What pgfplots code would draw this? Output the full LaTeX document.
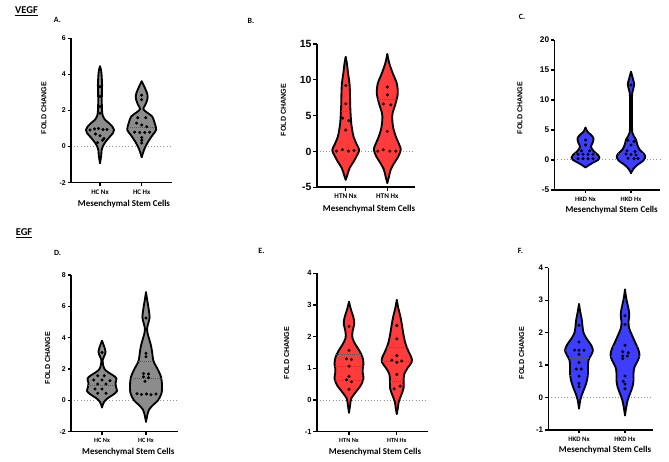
\documentclass[border=0pt]{standalone}
\usepackage{fontspec}
\setmainfont{Carlito}
\newfontfamily\arialf{Liberation Sans}
\usepackage{pgfplots}
\pgfplotsset{compat=1.18}
\usepgfplotslibrary{fillbetween}
\usepackage{pgfplotstable}

\definecolor{vgray}{HTML}{8C8C8C}
\definecolor{vred}{HTML}{FF3B3B}
\definecolor{vblue}{HTML}{3D3DFF}

% ---------- violin outlines: y value, half width (px) ----------
\pgfplotstableread[row sep=\\]{y w\\ -0.92 0\\ -0.5 1.2\\ -0.2 1.6\\ 0.0 2.7\\ 0.19 4.6\\ 0.35 6.8\\ 0.56 10\\ 0.75 13\\ 0.93 14\\ 1.1 12.5\\ 1.3 9\\ 1.5 4.8\\ 1.7 2.8\\ 2.0 2.0\\ 2.5 1.8\\ 3.0 1.9\\ 3.4 2.1\\ 3.8 1.8\\ 4.2 1.2\\ 4.45 0\\}\vAa
\pgfplotstableread[row sep=\\]{y w\\ -0.59 0\\ -0.37 1.2\\ -0.09 3\\ 0.28 6.5\\ 0.65 11\\ 0.93 14.5\\ 1.3 13\\ 1.67 10.5\\ 1.9 5\\ 2.08 1.6\\ 2.3 3.5\\ 2.6 5.6\\ 2.87 5.8\\ 3.15 4\\ 3.4 2\\ 3.62 0\\}\vAb
\pgfplotstableread[row sep=\\]{y w\\ -3.95 0\\ -3.2 1.8\\ -2.3 4\\ -1.4 8\\ -0.5 11.5\\ 0.2 13.5\\ 1.0 11\\ 2.0 8\\ 3.0 6.5\\ 4.0 5.5\\ 5.0 5\\ 6.5 4.5\\ 8.0 4.3\\ 9.5 3.8\\ 11.0 2.3\\ 12.3 1.2\\ 13.2 0\\}\vBa
\pgfplotstableread[row sep=\\]{y w\\ -4.4 0\\ -3.5 1.7\\ -2.5 3.5\\ -1.6 7\\ -0.7 11\\ 0.24 13.5\\ 0.93 12\\ 2.09 8.5\\ 3.25 6\\ 4.4 5\\ 5.35 5.3\\ 6.7 8.3\\ 8.1 10.5\\ 9.5 9.5\\ 10.9 5.5\\ 12.3 2\\ 13.6 0\\}\vBb
\pgfplotstableread[row sep=\\]{y w\\ -1.25 0\\ -0.9 3\\ -0.45 7.5\\ 0.0 12.5\\ 0.4 14\\ 0.85 12.5\\ 1.5 8\\ 2.2 5.5\\ 2.9 7.2\\ 3.6 8\\ 4.2 5.5\\ 4.7 2\\ 5.4 0\\}\vCa
\pgfplotstableread[row sep=\\]{y w\\ -2.2 0\\ -1.5 2.3\\ -0.8 6.5\\ -0.15 12\\ 0.5 14.3\\ 1.05 12.8\\ 1.75 8.5\\ 2.6 6.2\\ 3.4 5\\ 4.0 2.8\\ 4.6 1.3\\ 6.0 1.0\\ 8.0 0.9\\ 10.5 1.0\\ 11.2 1.3\\ 11.9 2.3\\ 12.6 3.2\\ 13.3 2.3\\ 14.0 1.2\\ 14.7 0\\}\vCb
\pgfplotstableread[row sep=\\]{y w\\ -0.45 0\\ -0.1 2\\ 0.15 6\\ 0.4 12\\ 0.6 15\\ 0.85 14\\ 1.1 13.5\\ 1.4 14.5\\ 1.6 11\\ 1.8 6\\ 2.0 2.5\\ 2.3 1\\ 2.6 0.8\\ 2.8 2\\ 3.1 3.6\\ 3.5 1.8\\ 3.8 0\\}\vDa
\pgfplotstableread[row sep=\\]{y w\\ -1.37 0\\ -0.95 1.3\\ -0.6 3\\ -0.3 7\\ 0.0 12\\ 0.45 15.5\\ 1.0 16\\ 1.5 15\\ 1.95 12\\ 2.5 7.5\\ 3.0 6.3\\ 3.5 5\\ 3.95 3\\ 4.3 1.5\\ 4.6 1.1\\ 4.9 2.2\\ 5.3 3.6\\ 5.9 2.5\\ 6.4 1.2\\ 6.9 0\\}\vDb
\pgfplotstableread[row sep=\\]{y w\\ -0.4 0\\ -0.15 1.2\\ 0.05 2.3\\ 0.26 7\\ 0.47 12\\ 0.68 14.5\\ 0.85 13.8\\ 1.0 13.8\\ 1.15 14.5\\ 1.35 13.5\\ 1.55 10.5\\ 1.75 6.5\\ 1.95 3.5\\ 2.15 3.5\\ 2.4 5.2\\ 2.6 4.5\\ 2.85 2\\ 3.1 0\\}\vEa
\pgfplotstableread[row sep=\\]{y w\\ -0.44 0\\ -0.25 1.1\\ -0.05 2\\ 0.16 4.5\\ 0.38 6.8\\ 0.6 6.8\\ 0.82 7.5\\ 1.02 11\\ 1.2 15\\ 1.35 14.5\\ 1.55 11.5\\ 1.8 8.5\\ 2.1 6.5\\ 2.4 5\\ 2.65 3.5\\ 2.9 1.5\\ 3.16 0\\}\vEb
\pgfplotstableread[row sep=\\]{y w\\ -0.34 0\\ -0.08 1.3\\ 0.12 3.3\\ 0.33 6\\ 0.53 8\\ 0.74 9\\ 0.95 9\\ 1.15 9.5\\ 1.3 12\\ 1.45 14\\ 1.62 12\\ 1.82 7.5\\ 2.0 4.5\\ 2.2 3.5\\ 2.4 2.8\\ 2.6 1.5\\ 2.88 0\\}\vFa
\pgfplotstableread[row sep=\\]{y w\\ -0.55 0\\ -0.29 1.3\\ -0.08 2.7\\ 0.12 5\\ 0.33 7.5\\ 0.53 8.5\\ 0.74 8.5\\ 0.94 9.5\\ 1.15 13\\ 1.32 14.5\\ 1.51 13\\ 1.71 10\\ 1.92 7\\ 2.13 4.2\\ 2.33 3.5\\ 2.53 4.3\\ 2.74 3.5\\ 2.94 2\\ 3.1 1\\ 3.33 0\\}\vFb

% ---------- data points: horizontal offset (px), fold change ----------
\pgfplotstableread[row sep=\\]{dx y\\ 0 3.32\\ 0 2.78\\ 0 2.22\\ 0 1.85\\ -10 0.92\\ -5.5 0.98\\ -1.5 1.0\\ 3 0.95\\ 7 0.95\\ -4.5 0.7\\ 0 0.6\\ 4 0.45\\ -2.5 0.22\\ 2.5 0.35\\}\pAa
\pgfplotstableread[row sep=\\]{dx y\\ 0 2.85\\ 0 2.6\\ -4 1.6\\ 4 1.6\\ -5 1.3\\ 0 1.2\\ 5 1.1\\ -7 0.8\\ -2 0.78\\ 3 0.78\\ 8 0.8\\ 0 0.5\\ 0 0.35\\ 0 0.2\\}\pAb
\pgfplotstableread[row sep=\\]{dx y\\ 0 9.2\\ 0 6.65\\ -3 4.65\\ 3 4.3\\ 0 3.0\\ -9.3 0.05\\ -3.3 0.25\\ 2.7 0.05\\ 8.3 0.15\\}\pBa
\pgfplotstableread[row sep=\\]{dx y\\ 0 9.0\\ 0 7.9\\ -4 6.65\\ 3.5 6.5\\ 0 2.8\\ -9.5 0.05\\ -4 0.25\\ 2.5 0.05\\ 8.5 0.05\\}\pBb
\pgfplotstableread[row sep=\\]{dx y\\ 0 3.35\\ 0 2.5\\ -4 1.55\\ 4 1.55\\ -7.5 0.95\\ -2.5 0.95\\ 2.5 0.95\\ 7.5 0.95\\ -7.5 0.2\\ -2.5 0.2\\ 2.5 0.2\\ 7.5 0.2\\}\pCa
\pgfplotstableread[row sep=\\]{dx y\\ 0 12.5\\ -3 3.3\\ 3 3.1\\ 0 2.5\\ -4 1.55\\ 4 1.4\\ -5 1.0\\ 0 0.9\\ 5 0.85\\ -3 0.3\\ 3 0.2\\ 7 0.25\\}\pCb
\pgfplotstableread[row sep=\\]{dx y\\ 0 3.05\\ -4.3 1.57\\ 2.3 1.57\\ -8.3 1.3\\ 0 1.3\\ 8 1.25\\ -4.3 1.04\\ 4 1.04\\ -7 0.72\\ 0 0.72\\ -4.3 0.45\\ 4 0.45\\}\pDa
\pgfplotstableread[row sep=\\]{dx y\\ 0 5.25\\ 0 3.0\\ 0 2.78\\ -2.5 1.72\\ 2.5 1.68\\ -2.5 1.5\\ 2.5 1.45\\ -1 1.22\\ -9 0.42\\ -4.5 0.38\\ 0.5 0.4\\ 5 0.36\\ 10 0.4\\}\pDb
\pgfplotstableread[row sep=\\]{dx y\\ 0 2.33\\ 0 1.57\\ -2.5 1.3\\ 2.5 1.28\\ 0 1.07\\ 0 0.75\\ -2.5 0.64\\ 2.5 0.58\\ 0 0.34\\}\pEa
\pgfplotstableread[row sep=\\]{dx y\\ 0 2.35\\ 0 1.93\\ 0 1.4\\ -5 1.26\\ 0 1.19\\ 5 1.23\\ 0 0.81\\ 3.3 0.44\\ -2.7 0.35\\}\pEb
\pgfplotstableread[row sep=\\]{dx y\\ 0 2.23\\ 0 1.71\\ -4.3 1.46\\ 0 1.46\\ 5 1.46\\ 0 1.33\\ 0 1.08\\ -2.7 0.88\\ 2.3 0.88\\ 0 0.66\\ 0 0.43\\ 0 0.33\\}\pFa
\pgfplotstableread[row sep=\\]{dx y\\ 0 2.52\\ 0 2.25\\ 0 1.61\\ -2.3 1.41\\ 3.3 1.38\\ -2.3 1.28\\ 2.3 1.28\\ -2.3 1.2\\ 0 0.66\\ -1.7 0.5\\ 0 0.42\\ 0 0.27\\}\pFb

\newcommand{\violin}[4]{%
  \addplot[name path=#4R, draw=black, line width=1.85pt, line cap=round, line join=round, smooth, tension=0.5] table[x expr=#2+\thisrow{w}, y=y]{#1};
  \addplot[name path=#4L, draw=black, line width=1.85pt, line cap=round, line join=round, smooth, tension=0.5] table[x expr=#2-\thisrow{w}, y=y]{#1};
  \addplot[fill=#3, draw=none] fill between[of=#4R and #4L];
}
\newcommand{\pts}[2]{%
  \addplot[only marks, mark=*, mark size=1.35pt, black] table[x expr=#2+\thisrow{dx}, y=y]{#1};
}

\pgfplotsset{
  prism/.style={
    scale only axis, set layers, clip=false, enlargelimits=false,
    axis x line*=bottom, axis y line*=left,
    axis line style={line width=1.6pt, black, -},
    tick style={line width=1.3pt, black},
    tick align=outside, major tick length=3.5bp,
    ytick pos=left, xtick pos=bottom,
    y tick label style={inner sep=1.5bp},
  },
  zeroline/.style={on layer=axis background, draw=gray!85, line width=1pt, dash pattern=on 1pt off 2.2pt},
  medline/.style={draw=black!65, line width=0.5pt, dash pattern=on 1pt off 1pt},
}

\begin{document}
\begin{tikzpicture}

% ================= Panel A =================
\begin{axis}[prism, at={(71bp,279.3bp)}, anchor=south west, width=101bp, height=144.4bp,
  xmin=-29, xmax=72, ymin=-2, ymax=6,
  xtick={0,41.7}, xticklabels={HC Nx, HC Hx},
  ytick={-2,0,2,4,6}, yticklabels={-2,0,2,4,6},
  yticklabel style={font=\arialf\bfseries\fontsize{7}{8}\selectfont},
  xticklabel style={font=\bfseries\fontsize{7}{8}\selectfont}]
  \addplot[zeroline] coordinates {(-29,0) (72,0)};
  \violin{\vAa}{0}{vgray}{aa}
  \violin{\vAb}{41.7}{vgray}{ab}
  \addplot[medline] coordinates {(27.9,1.05) (55.5,1.05)};
  \pts{\pAa}{0}
  \pts{\pAb}{41.7}
\end{axis}

% ================= Panel B =================
\begin{axis}[prism, at={(316.7bp,274.7bp)}, anchor=south west, width=98.3bp, height=143.3bp,
  xmin=-29, xmax=69.3, ymin=-5, ymax=15,
  xtick={0,41.6}, xticklabels={HTN Nx, HTN Hx},
  ytick={-5,0,5,10,15}, yticklabels={-5,0,5,10,15},
  yticklabel style={font=\arialf\bfseries\fontsize{10.5}{12}\selectfont},
  xticklabel style={font=\bfseries\fontsize{7.2}{8}\selectfont}]
  \addplot[zeroline] coordinates {(-29,0) (69.3,0)};
  \violin{\vBa}{0}{vred}{ba}
  \violin{\vBb}{41.6}{vred}{bb}
  \addplot[medline] coordinates {(-4.8,5.67) (4.8,5.67)};
  \addplot[medline] coordinates {(32.1,7.3) (51.1,7.3)};
  \pts{\pBa}{0}
  \pts{\pBb}{41.6}
\end{axis}

% ================= Panel C =================
\begin{axis}[prism, at={(554.3bp,272bp)}, anchor=south west, width=105.7bp, height=150bp,
  xmin=-31.2, xmax=74.5, ymin=-5, ymax=20,
  xtick={0,45.5}, xticklabels={HKD Nx, HKD Hx},
  ytick={-5,0,5,10,15,20}, yticklabels={-5,0,5,10,15,20},
  yticklabel style={font=\arialf\bfseries\fontsize{8.3}{10}\selectfont},
  xticklabel style={font=\bfseries\fontsize{6.6}{8}\selectfont}]
  \addplot[zeroline] coordinates {(-31.2,0) (74.5,0)};
  \violin{\vCa}{0}{vblue}{ca}
  \violin{\vCb}{45.5}{vblue}{cb}
  \addplot[medline] coordinates {(-10.5,1.2) (10.5,1.2)};
  \addplot[medline] coordinates {(32.7,1.1) (58.3,1.1)};
  \pts{\pCa}{0}
  \pts{\pCb}{45.5}
\end{axis}

% ================= Panel D =================
\begin{axis}[prism, at={(71bp,30.3bp)}, anchor=south west, width=107bp, height=156.7bp,
  xmin=-31, xmax=76, ymin=-2, ymax=8,
  xtick={0,44}, xticklabels={HC Nx, HC Hx},
  ytick={-2,0,2,4,6,8}, yticklabels={-2,0,2,4,6,8},
  yticklabel style={font=\arialf\bfseries\fontsize{7}{8}\selectfont},
  xticklabel style={font=\bfseries\fontsize{6.4}{8}\selectfont}]
  \addplot[zeroline] coordinates {(-31,0) (76,0)};
  \violin{\vDa}{0}{vgray}{da}
  \violin{\vDb}{44}{vgray}{db}
  \addplot[medline] coordinates {(-13.7,0.98) (13.7,0.98)};
  \addplot[medline] coordinates {(28.8,1.4) (59.2,1.4)};
  \addplot[medline] coordinates {(36.5,2.5) (51.5,2.5)};
  \pts{\pDa}{0}
  \pts{\pDb}{44}
\end{axis}

% ================= Panel E =================
\begin{axis}[prism, at={(316.7bp,30.3bp)}, anchor=south west, width=111.3bp, height=158.4bp,
  xmin=-32.3, xmax=79, ymin=-1, ymax=4,
  xtick={0,47.8}, xticklabels={HTN Nx, HTN Hx},
  ytick={-1,0,1,2,3,4}, yticklabels={-1,0,1,2,3,4},
  yticklabel style={font=\arialf\bfseries\fontsize{7.5}{9}\selectfont},
  xticklabel style={font=\bfseries\fontsize{6.3}{8}\selectfont}]
  \addplot[zeroline] coordinates {(-32.3,0) (79,0)};
  \violin{\vEa}{0}{vred}{ea}
  \violin{\vEb}{47.8}{vred}{eb}
  \addplot[medline] coordinates {(-12.8,1.43) (12.8,1.43)};
  \addplot[medline] coordinates {(-14,1.07) (14,1.07)};
  \addplot[medline] coordinates {(-14,0.62) (14,0.62)};
  \addplot[medline] coordinates {(37.8,1.67) (57.8,1.67)};
  \addplot[medline] coordinates {(32.8,1.21) (62.8,1.21)};
  \addplot[medline] coordinates {(41,0.6) (54.6,0.6)};
  \pts{\pEa}{0}
  \pts{\pEb}{47.8}
\end{axis}

% ================= Panel F =================
\begin{axis}[prism, at={(548.3bp,32bp)}, anchor=south west, width=104.7bp, height=162.3bp,
  xmin=-30.7, xmax=74, ymin=-1, ymax=4,
  xtick={0,46}, xticklabels={HKD Nx, HKD Hx},
  ytick={-1,0,1,2,3,4}, yticklabels={-1,0,1,2,3,4},
  yticklabel style={font=\arialf\bfseries\fontsize{8}{9}\selectfont},
  xticklabel style={font=\bfseries\fontsize{6.8}{8}\selectfont}]
  \addplot[zeroline] coordinates {(-30.7,0) (74,0)};
  \violin{\vFa}{0}{vblue}{fa}
  \violin{\vFb}{46}{vblue}{fb}
  \addplot[medline] coordinates {(-14,1.45) (14,1.45)};
  \addplot[medline] coordinates {(-10.5,1.2) (10.5,1.2)};
  \addplot[medline] coordinates {(-9,0.68) (9,0.68)};
  \addplot[medline] coordinates {(34,1.58) (58,1.58)};
  \addplot[medline] coordinates {(31.8,1.27) (60.2,1.27)};
  \addplot[medline] coordinates {(37.5,0.55) (54.5,0.55)};
  \pts{\pFa}{0}
  \pts{\pFb}{46}
\end{axis}

% ================= Texts =================
\node[font=\bfseries\fontsize{10.5}{12}\selectfont] at (26.5bp,451bp) {\underline{VEGF}};
\node[font=\bfseries\fontsize{10.5}{12}\selectfont] at (24bp,229bp) {\underline{EGF}};

\node[font=\bfseries\fontsize{8}{9}\selectfont] at (57.5bp,442bp) {A.};
\node[font=\bfseries\fontsize{8}{9}\selectfont] at (251bp,441.3bp) {B.};
\node[font=\bfseries\fontsize{8}{9}\selectfont] at (522bp,445bp) {C.};
\node[font=\bfseries\fontsize{8}{9}\selectfont] at (57.5bp,209bp) {D.};
\node[font=\bfseries\fontsize{8}{9}\selectfont] at (261.5bp,211.3bp) {E.};
\node[font=\bfseries\fontsize{8}{9}\selectfont] at (520.5bp,211.3bp) {F.};

\tikzset{yl/.style={rotate=90, font=\arialf\bfseries\fontsize{7.2}{8}\selectfont},
         xl/.style={font=\bfseries\fontsize{9}{10}\selectfont}}
\node[yl] at (44bp,354bp) {FOLD CHANGE};
\node[yl] at (283.3bp,352bp) {FOLD CHANGE};
\node[yl] at (520bp,354bp) {FOLD CHANGE};
\node[yl] at (47.7bp,104bp) {FOLD CHANGE};
\node[yl] at (286.7bp,109bp) {FOLD CHANGE};
\node[yl] at (521.7bp,109bp) {FOLD CHANGE};

\node[xl] at (124bp,258bp) {Mesenchymal Stem Cells};
\node[xl] at (369bp,252.7bp) {Mesenchymal Stem Cells};
\node[xl] at (611.7bp,252bp) {Mesenchymal Stem Cells};
\node[xl] at (128.3bp,10.3bp) {Mesenchymal Stem Cells};
\node[xl] at (375bp,10.3bp) {Mesenchymal Stem Cells};
\node[xl] at (605bp,12bp) {Mesenchymal Stem Cells};

\pgfresetboundingbox
\path[use as bounding box] (0,0) rectangle (669bp,462bp);
\end{tikzpicture}
\end{document}
